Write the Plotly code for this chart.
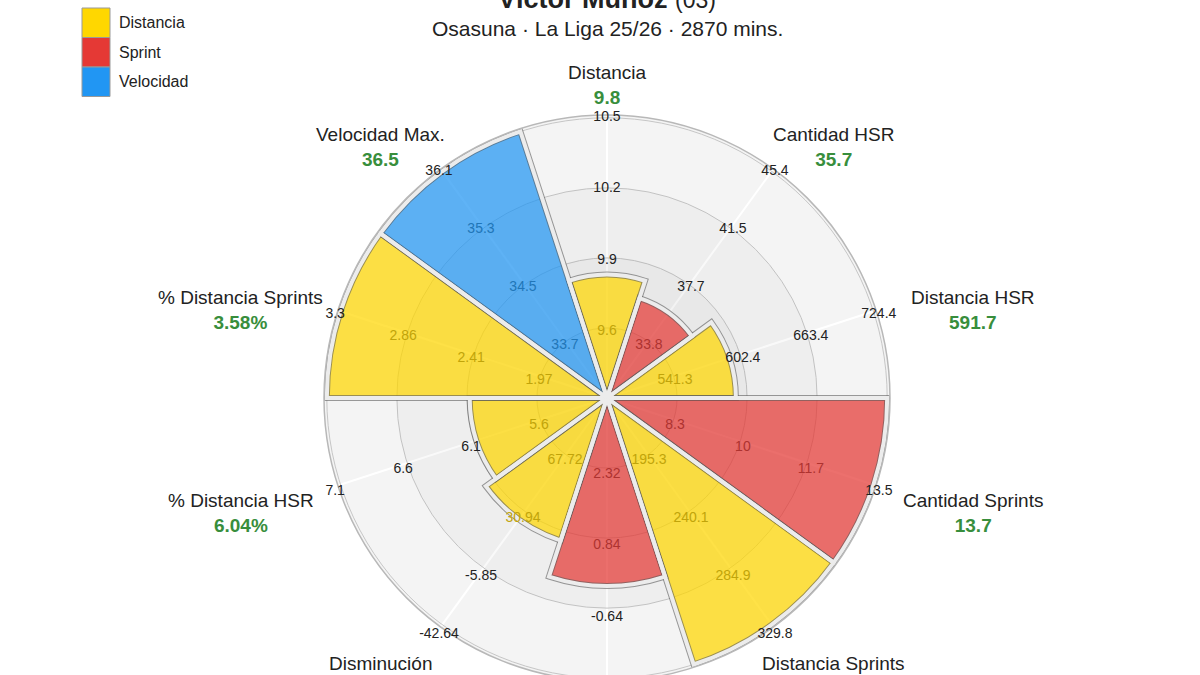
import math
import plotly.graph_objects as go

# --- data ------------------------------------------------------------------
categories = ["Distancia", "Cantidad HSR", "Distancia HSR", "Cantidad Sprints",
              "Distancia Sprints", "Disminución Sprints", "Disminución",
              "% Distancia HSR", "% Distancia Sprints", "Velocidad Max."]
groups = ["Distancia", "Sprint", "Distancia", "Sprint", "Distancia", "Sprint",
          "Distancia", "Distancia", "Distancia", "Velocidad"]
values = ["9.8", "35.7", "591.7", "13.7", "341.2", "-0.2", "25.7",
          "6.04%", "3.58%", "36.5"]
percentiles = [44, 37.5, 46, 100, 100, 67, 53.5, 49, 100, 100]
tick_levels = [25, 50, 75, 100]
tick_labels = [
    ["9.6", "9.9", "10.2", "10.5"],
    ["33.8", "37.7", "41.5", "45.4"],
    ["541.3", "602.4", "663.4", "724.4"],
    ["8.3", "10", "11.7", "13.5"],
    ["195.3", "240.1", "284.9", "329.8"],
    ["2.32", "0.84", "-0.64", "-2.12"],
    ["67.72", "30.94", "-5.85", "-42.64"],
    ["5.6", "6.1", "6.6", "7.1"],
    ["1.97", "2.41", "2.86", "3.3"],
    ["33.7", "34.5", "35.3", "36.1"],
]
legend_groups = ["Distancia", "Sprint", "Velocidad"]
group_colors = {"Distancia": "#FFD700", "Sprint": "#E53935", "Velocidad": "#2196F3"}

player = "Víctor Muñoz"
number = "(03)"
subtitle = "Osasuna · La Liga 25/26 · 2870 mins."

# --- geometry ---------------------------------------------------------------
W, H = 1200, 700
CX, CY, RAD = 607, 398, 283          # centre and radius of the polar, pixels
RMAX = 101                           # radial range, so 100 sits just inside the rim
TICK_DY, TICK_SCALE = 5, 1.02        # scale labels sit a little low / outward
LABEL_RX, LABEL_RY, LABEL_DY = 385, 327, 13.5
BAR_ALPHA = 0.72
GREEN = "#388E3C"
DARK = "#222222"
FONT = "Liberation Sans, Arial, sans-serif"


def px(x):
    return x / W


def py(y):
    return 1 - y / H


def hex_rgb(hex_color):
    h = hex_color.lstrip("#")
    return int(h[0:2], 16), int(h[2:4], 16), int(h[4:6], 16)


def rgba(hex_color, a):
    r, g, b = hex_rgb(hex_color)
    return f"rgba({r},{g},{b},{a})"


def under_bar(hex_color):
    # dark text seen through a translucent bar
    r, g, b = hex_rgb(hex_color)
    d = 34
    return "rgb({},{},{})".format(*[round(BAR_ALPHA * c + (1 - BAR_ALPHA) * d) for c in (r, g, b)])


step = 360 / len(categories)
theta = [i * step for i in range(len(categories))]
bar_colors = [rgba(group_colors[g], BAR_ALPHA) for g in groups]

fig = go.Figure()

# shaded rings
for lv in [75, 50, 25]:
    fig.add_trace(go.Barpolar(
        r=[lv], theta=[0], width=[360],
        marker=dict(color="rgba(0,0,0,0.025)", line=dict(width=0)),
        hoverinfo="skip", showlegend=False,
    ))

# the bars: thin dark outline underneath, light gap line on top
fig.add_trace(go.Barpolar(
    r=percentiles, theta=theta, width=[step] * len(theta),
    marker=dict(color=bar_colors, line=dict(color="rgba(90,90,90,0.6)", width=6)),
    customdata=values, hovertemplate="%{customdata}<extra></extra>",
    showlegend=False,
))
fig.add_trace(go.Barpolar(
    r=percentiles, theta=theta, width=[step] * len(theta),
    marker=dict(color="rgba(0,0,0,0)", line=dict(color="#ececec", width=4)),
    hoverinfo="skip", showlegend=False,
))

# per-spoke scale labels (on an overlaid polar nudged a few pixels down)
tick_r, tick_theta, tick_text, tick_color = [], [], [], []
for t, g, pct, row in zip(theta, groups, percentiles, tick_labels):
    for lv, lab in zip(tick_levels, row):
        tick_r.append(lv)
        tick_theta.append(t)
        tick_text.append(lab)
        tick_color.append(under_bar(group_colors[g]) if lv < pct else DARK)

fig.add_trace(go.Scatterpolar(
    r=tick_r, theta=tick_theta, text=tick_text, mode="text",
    textfont=dict(size=14, color=tick_color, family=FONT),
    subplot="polar2", cliponaxis=False,
    hoverinfo="skip", showlegend=False,
))

shapes = []
annotations = []

# category name with its value underneath
for t, c, v in zip(theta, categories, values):
    a = math.radians(90 - t)
    x = CX + LABEL_RX * math.cos(a)
    y = CY - LABEL_RY * math.sin(a) + LABEL_DY
    annotations.append(dict(
        text=f"{c}<br><b><span style='color:{GREEN}'>{v}</span></b>",
        x=px(x), y=py(y), xref="paper", yref="paper",
        xanchor="center", yanchor="middle", align="center", showarrow=False,
        font=dict(size=19, color=DARK, family=FONT)))

# legend boxes
for i, g in enumerate(legend_groups):
    y0 = 8 + i * 29.5
    shapes.append(dict(type="rect", xref="paper", yref="paper",
                       x0=px(82), x1=px(110), y0=py(y0), y1=py(y0 + 29.5),
                       fillcolor=group_colors[g], line=dict(color="#999999", width=1)))
    annotations.append(dict(text=g, x=px(117), y=py(y0 + 14.5), xref="paper", yref="paper",
                            xanchor="left", yanchor="middle", showarrow=False,
                            font=dict(size=16, color=DARK, family=FONT)))

annotations.append(dict(
    text=f"<b>{player}</b> <span style='font-size:23px'>{number}</span>",
    x=px(CX), y=py(-1), xref="paper", yref="paper", xanchor="center", yanchor="middle",
    showarrow=False, font=dict(size=27, color=DARK, family=FONT)))
annotations.append(dict(
    text=subtitle, x=px(CX), y=py(28), xref="paper", yref="paper",
    xanchor="center", yanchor="middle", showarrow=False,
    font=dict(size=21, color=DARK, family=FONT)))

# the label polar is a touch larger, so its range can still hold r = 100
tick_rmax = RMAX + 1
tick_rad = RAD / RMAX * TICK_SCALE * tick_rmax

fig.update_layout(
    width=W, height=H,
    margin=dict(l=0, r=0, t=0, b=0),
    paper_bgcolor="white",
    font=dict(family=FONT, color=DARK),
    showlegend=False,
    shapes=shapes,
    annotations=annotations,
    polar=dict(
        domain=dict(x=[px(CX - RAD), px(CX + RAD)], y=[py(CY + RAD), py(CY - RAD)]),
        bgcolor="#f4f4f4",
        barmode="overlay",
        radialaxis=dict(range=[0, RMAX], tickvals=tick_levels, showticklabels=False,
                        ticks="", gridcolor="#c6c6c6", gridwidth=1, showline=False),
        angularaxis=dict(rotation=90, direction="clockwise", tickvals=theta,
                         showticklabels=False, ticks="", gridcolor="white",
                         gridwidth=1.5, linecolor="#b8b8b8", linewidth=1.5),
    ),
    polar2=dict(
        domain=dict(x=[px(CX - tick_rad), px(CX + tick_rad)],
                    y=[py(CY + TICK_DY + tick_rad), py(CY + TICK_DY - tick_rad)]),
        bgcolor="rgba(0,0,0,0)",
        radialaxis=dict(range=[0, tick_rmax], visible=False),
        angularaxis=dict(rotation=90, direction="clockwise", visible=False),
    ),
)

# the page body has a default 8px margin; drop it so the figure starts at the corner
fig.write_html("out.html", config={"displayModeBar": False},
               post_script="document.body.style.margin = '0';")
